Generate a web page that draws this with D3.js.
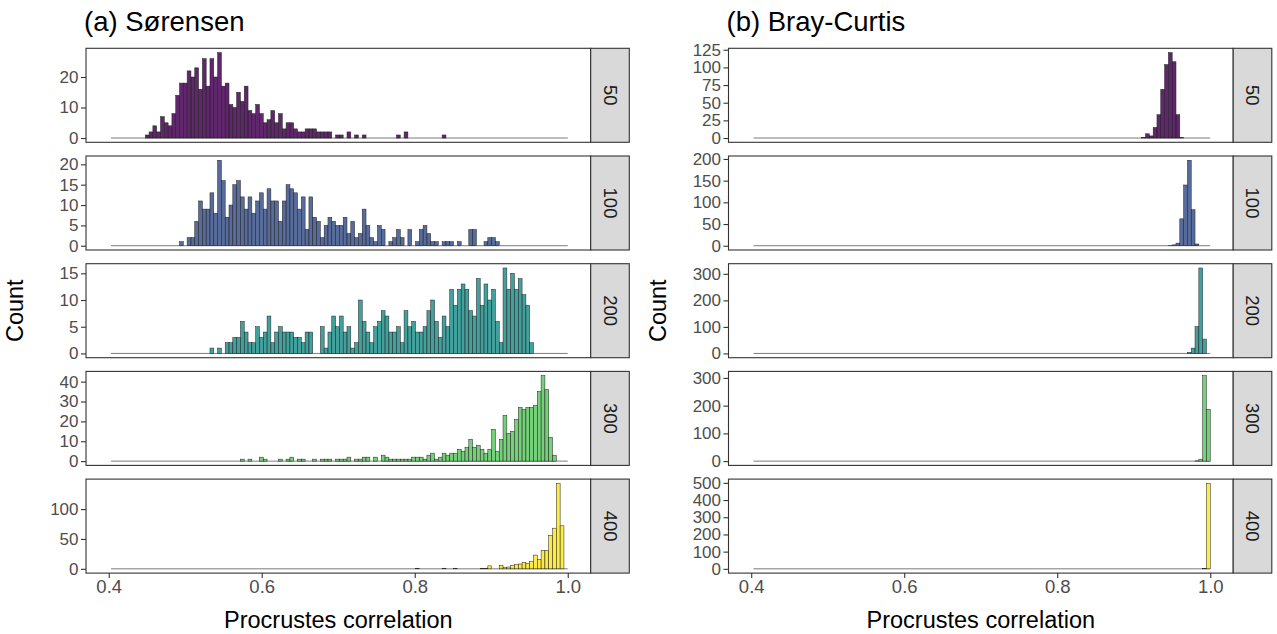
<!DOCTYPE html>
<html>
<head>
<meta charset="utf-8">
<script src="https://cdn.jsdelivr.net/npm/d3@7"></script>
<style>
  body { margin: 0; background: #fff; }
  text { font-family: "Liberation Sans", Arial, sans-serif; }
</style>
</head>
<body>
<div id="chart"></div>
<script>
// Facet rows (number of sampling units) and the two dissimilarity measures
const sampleSizes = ["50", "100", "200", "300", "400"];
const measures = ["(a) Sørensen", "(b) Bray-Curtis"];
const fillColors = ["#440154", "#3B528B", "#21908C", "#5DC863", "#FDE725"];

// Histogram bins: index 0 starts at binLo, nBins bins up to binHi
const binLo = 0.403, binHi = 1.0, nBins = 120;

// Sørensen counts, one array per row, first bin index in the matching start array
const sorStart = [9, 18, 26, 34, 80];
const sor50 = [1,2,4,2,7,5,4,8,14,18,18,22,20,23,16,26,17,26,20,28,17,18,11,10,15,12,17,9,8,11,8,5,6,9,5,8,3,5,5,3,2,2,3,3,3,2,2,2,2,
  0,1,1,0,2,0,1,0,1,0,0,0,0,0,0,0,0,1,0,2,0,0,0,0,0,0,0,0,0,1];
const sor100 = [1,0,2,2,6,11,9,9,13,8,21,16,7,10,15,16,12,9,12,8,11,13,9,14,11,11,6,11,15,14,13,9,12,4,12,7,6,2,5,7,
  6,5,5,7,3,6,2,3,9,5,2,1,5,4,0,1,2,4,2,0,4,0,1,4,5,3,1,1,0,1,1,1,0,1,0,0,4,4,0,0,1,2,2,1];
const sor200 = [1,0,1,0,2,2,3,3,6,4,2,2,5,3,4,7,2,4,5,4,4,4,3,3,2,4,4,0,0,5,1,4,7,5,7,4,5,1,2,10,6,4,2,5,6,8,7,4,4,5,
  2,8,5,6,4,4,5,8,10,6,3,7,5,12,9,12,13,12,8,7,14,9,13,10,12,6,2,16,12,15,12,14,11,9,2];
const sor300 = [1,0,1,0,0,2,1,0,0,0,1,0,1,2,0,1,1,0,0,1,0,1,1,1,0,1,1,1,2,0,1,1,2,2,0,2,0,3,2,1,1,1,1,1,1,2,2,2,1,3,
  4,1,2,4,3,4,4,6,5,7,11,7,8,6,4,6,16,5,11,23,14,15,21,27,26,27,27,28,35,43,36,12,3];
const sor400 = [1,0,0,0,0,0,0,1,0,0,1,0,0,0,0,0,0,1,1,5,0,0,6,2,3,6,7,8,11,9,12,23,16,31,31,56,68,143,72];

// Bray-Curtis counts
const brayStart = [102, 109, 114, 116, 118];
const bray50 = [1,6,3,15,33,69,104,121,108,33,1];
const bray100 = [1,2,6,62,140,197,83,4];
const bray200 = [4,20,101,322,54];
const bray300 = [1,7,308,187];
const bray400 = [2,497];

// Y tick labels of every panel
const sorTicks = [[0,10,20], [0,5,10,15,20], [0,5,10,15], [0,10,20,30,40], [0,50,100]];
const brayTicks = [[0,25,50,75,100,125], [0,50,100,150,200], [0,100,200,300], [0,100,200,300], [0,100,200,300,400,500]];
const xTicks = [0.4, 0.6, 0.8, 1.0];

const counts = [[sor50, sor100, sor200, sor300, sor400], [bray50, bray100, bray200, bray300, bray400]];
const starts = [sorStart, brayStart];
const yTicks = [sorTicks, brayTicks];

// Layout
const W = 1277, H = 634;
const colLeft = [86, 728.5];
const panelW = 504.7, stripW = 38.6;
const panelH = 94, rowTop0 = 48.3, rowStep = 107.7;
const yTickFont = "17px", xTickFont = "18.5px", titleFont = "23.5px";

const svg = d3.select("#chart").append("svg")
  .attr("width", W)
  .attr("height", H);

svg.append("rect").attr("width", W).attr("height", H).attr("fill", "#fff");

const x = d3.scaleLinear().domain([0.3703, 1.030]).range([0, panelW]);
const binW = (binHi - binLo) / nBins;

measures.forEach(function(title, c) {
  // column title
  svg.append("text")
    .attr("x", colLeft[c] - 2)
    .attr("y", 31)
    .attr("font-size", "27.5px")
    .attr("fill", "#000")
    .text(title);

  // y axis title
  svg.append("text")
    .attr("transform", `translate(${colLeft[c] - 63},${rowTop0 + (4 * rowStep + panelH) / 2}) rotate(-90)`)
    .attr("text-anchor", "middle")
    .attr("font-size", titleFont)
    .attr("fill", "#000")
    .text("Count");

  sampleSizes.forEach(function(size, r) {
    const vals = counts[c][r];
    const bins = vals.map((v, i) => ({bin: starts[c][r] + i, n: v}));
    const maxN = d3.max(vals);
    const y = d3.scaleLinear().domain([-0.05 * maxN, 1.05 * maxN]).range([panelH, 0]);

    const g = svg.append("g")
      .attr("transform", `translate(${colLeft[c]},${rowTop0 + r * rowStep})`);

    // zero-count bins show up as a flat line along 0
    g.append("line")
      .attr("x1", x(binLo))
      .attr("x2", x(binHi))
      .attr("y1", y(0))
      .attr("y2", y(0))
      .attr("stroke", "#444")
      .attr("stroke-width", 0.7);

    g.selectAll("rect.bar")
      .data(bins.filter(d => d.n > 0))
      .join("rect")
        .attr("class", "bar")
        .attr("x", d => x(binLo + d.bin * binW))
        .attr("width", d => x(binLo + (d.bin + 1) * binW) - x(binLo + d.bin * binW))
        .attr("y", d => y(d.n))
        .attr("height", d => y(0) - y(d.n))
        .attr("fill", fillColors[r])
        .attr("fill-opacity", 0.85)
        .attr("stroke", "#222")
        .attr("stroke-width", 0.5);

    // panel border
    g.append("rect")
      .attr("width", panelW)
      .attr("height", panelH)
      .attr("fill", "none")
      .attr("stroke", "#333")
      .attr("stroke-width", 1.1);

    // facet strip
    g.append("rect")
      .attr("x", panelW)
      .attr("width", stripW)
      .attr("height", panelH)
      .attr("fill", "#D9D9D9")
      .attr("stroke", "#333")
      .attr("stroke-width", 1.1);

    g.append("text")
      .attr("transform", `translate(${panelW + stripW / 2},${panelH / 2}) rotate(90)`)
      .attr("text-anchor", "middle")
      .attr("dy", "0.35em")
      .attr("font-size", xTickFont)
      .attr("fill", "#1A1A1A")
      .text(size);

    // y axis
    const yAxis = g.append("g")
      .call(d3.axisLeft(y).tickValues(yTicks[c][r]).tickSize(5).tickPadding(2.5));
    yAxis.select(".domain").remove();
    yAxis.selectAll("line").attr("stroke", "#333").attr("stroke-width", 1.1);
    yAxis.selectAll("text")
      .attr("fill", "#4D4D4D")
      .style("font-size", yTickFont)
      .style("font-family", "Liberation Sans, Arial, sans-serif");

    // x axis only on the last row
    if (r === sampleSizes.length - 1) {
      const xAxis = g.append("g")
        .attr("transform", `translate(0,${panelH})`)
        .call(d3.axisBottom(x).tickValues(xTicks).tickFormat(d3.format(".1f")).tickSize(5).tickPadding(2));
      xAxis.select(".domain").remove();
      xAxis.selectAll("line").attr("stroke", "#333").attr("stroke-width", 1.1);
      xAxis.selectAll("text")
        .attr("fill", "#4D4D4D")
        .style("font-size", xTickFont)
        .style("font-family", "Liberation Sans, Arial, sans-serif");
    }
  });

  // x axis title
  svg.append("text")
    .attr("x", colLeft[c] + panelW / 2)
    .attr("y", 628)
    .attr("text-anchor", "middle")
    .attr("font-size", titleFont)
    .attr("fill", "#000")
    .text("Procrustes correlation");
});
</script>
</body>
</html>
